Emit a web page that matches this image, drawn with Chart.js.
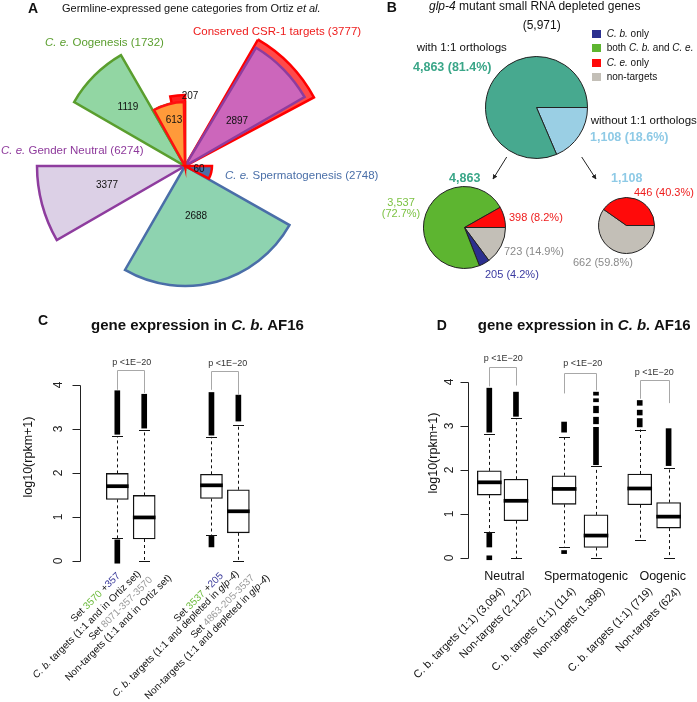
<!DOCTYPE html>
<html>
<head>
<meta charset="utf-8">
<script src="https://cdn.jsdelivr.net/npm/chart.js@4.4.1/dist/chart.umd.min.js"></script>
<style>
  html, body { margin: 0; padding: 0; background: #fff; }
  #fig { position: relative; width: 697px; height: 702px; overflow: hidden; font-family: "Liberation Sans", Arial, sans-serif; color: #111; }
  #fig canvas { position: absolute; }
  .t { position: absolute; width: 0; height: 0; }
  .t span { position: absolute; top: 0; white-space: nowrap; line-height: 1.15; }
</style>
</head>
<body>
<div id="fig">
  <canvas id="cA" width="300" height="300" style="left:35px;top:16px"></canvas>
  <canvas id="cB1" width="103" height="103" style="left:485px;top:56px"></canvas>
  <canvas id="cB2" width="83" height="83" style="left:423px;top:186px"></canvas>
  <canvas id="cB3" width="57" height="57" style="left:598px;top:197px"></canvas>
  <canvas id="cC" width="345" height="392" style="left:0;top:310px"></canvas>
  <canvas id="cD" width="352" height="392" style="left:345px;top:310px"></canvas>
  <svg width="697" height="702" style="position:absolute;left:0;top:0;pointer-events:none">
    <defs>
      <marker id="ah" viewBox="0 0 10 10" refX="9" refY="5" markerWidth="5" markerHeight="5" orient="auto">
        <path d="M0,0 L10,5 L0,10 z" fill="#222"/>
      </marker>
    </defs>
    <line x1="506.7" y1="157" x2="493" y2="179" stroke="#222" stroke-width="1" marker-end="url(#ah)"/>
    <line x1="581.7" y1="157" x2="596" y2="179" stroke="#222" stroke-width="1" marker-end="url(#ah)"/>
  </svg>
</div>
<script>
Chart.defaults.font.family = '"Liberation Sans", Arial, sans-serif';

// ---- Panel A: Ortiz gene-set regions (bearing in degrees clockwise from north, radius in px) ----
const regionCounts = [3777, 2897, 3377, 2688, 1119, 1732, 207, 613, 60];
const regionFrom   = [30, 31, 240, 119.5, 300, 330, 348, 331, 90];
const regionTo     = [62, 60, 270, 210, 330, 360, 360, 359, 118];
const regionRadius = [146, 138, 148, 120, 128, 64, 71, 64, 27];
const regionFill   = ['#ff4a4a', '#cc66bb', '#dcd0e6', '#8ed3b0', '#92d6a3', '#92d6a3', '#ff2020', '#ff9a3a', '#4a6ea8'];
const regionEdge   = ['#ff0000', '#8e3c9e', '#8e3c9e', '#4a6ea8', '#5a9e2e', '#5a9e2e', '#ff0000', '#ff1010', '#ff0000'];
const setNames  = ['C. e. Oogenesis', 'Conserved CSR-1 targets', 'C. e. Gender Neutral', 'C. e. Spermatogenesis'];
const setTotals = [1732, 3777, 6274, 2748];

// ---- Panel B: glp-4 depleted genes ----
const orthoCounts   = [1108, 4863];          // without / with 1:1 orthologs
const withCounts    = [723, 205, 3537, 398]; // non-targets, C. b. only, both, C. e. only
const withoutCounts = [662, 446];            // non-targets, C. e. only

// ---- Panel C: box plots ----
const cPos     = [1, 2, 4.5, 5.5];
const cQ1      = [1.40, 0.50, 1.42, 0.64];
const cMed     = [1.70, 0.99, 1.72, 1.13];
const cQ3      = [1.99, 1.49, 1.97, 1.62];
const cWhiskLo = [0.52, 0, 0.58, 0];
const cWhiskHi = [2.84, 2.97, 2.82, 3.10];
const cOutBox  = [0, 0, 1, 2, 2, 3];
const cOutLo   = [2.88, -0.05, 3.02, 2.86, 0.32, 3.18];
const cOutHi   = [3.87, 0.48, 3.79, 3.83, 0.56, 3.77];

// ---- Panel D: box plots ----
const dPos     = [1, 1.97, 3.72, 4.88, 6.47, 7.52];
const dQ1      = [1.43, 0.85, 1.22, 0.24, 1.21, 0.68];
const dMed     = [1.72, 1.30, 1.57, 0.51, 1.58, 0.94];
const dQ3      = [1.98, 1.79, 1.87, 0.98, 1.91, 1.26];
const dWhiskLo = [0.60, 0, 0.26, 0, 0.41, 0];
const dWhiskHi = [2.81, 3.18, 2.74, 2.09, 2.92, 2.04];
const dOutBox  = [0, 0, 0, 1, 2, 2, 3, 3, 3, 3, 3, 4, 4, 4, 5];
const dOutLo   = [2.86, 0.25, -0.04, 3.22, 2.86, 0.10, 2.12, 3.05, 3.30, 3.55, 3.70, 2.98, 3.25, 3.47, 2.10];
const dOutHi   = [3.86, 0.56, 0.05, 3.77, 3.09, 0.17, 2.97, 3.20, 3.45, 3.62, 3.77, 3.17, 3.36, 3.58, 2.94];

const yTicks = [0, 1, 2, 3, 4];

const fig = document.getElementById('fig');

function label(html, x, y, o = {}) {
  const wrap = document.createElement('div');
  wrap.className = 't';
  wrap.style.left = x + 'px';
  wrap.style.top = y + 'px';
  const s = document.createElement('span');
  s.innerHTML = html;
  s.style.fontSize = (o.size || 11) + 'px';
  if (o.bold) s.style.fontWeight = 'bold';
  if (o.color) s.style.color = o.color;
  const rot = o.rot || 0;
  const align = o.align || 'left';
  if (align === 'center') {
    s.style.left = '0';
    s.style.transformOrigin = 'center center';
    s.style.transform = `translate(-50%,-50%) rotate(${rot}deg)`;
  } else {
    s.style[align] = '0';
    s.style.transformOrigin = align + ' center';
    s.style.transform = `translateY(-50%) rotate(${rot}deg)`;
  }
  wrap.appendChild(s);
  fig.appendChild(wrap);
}

// ---------- Panel A ----------
new Chart(document.getElementById('cA'), {
  type: 'polarArea',
  data: {
    labels: [],
    datasets: regionCounts.map((count, i) => {
      const from = regionFrom[i];
      const span = regionTo[i] - from;
      const lead = from > 0;
      return {
        label: String(count),
        data: lead ? [0, regionRadius[i]] : [regionRadius[i]],
        angle: (ctx) => (lead ? [from, span] : [span])[ctx.dataIndex],
        backgroundColor: lead ? ['rgba(0,0,0,0)', regionFill[i]] : [regionFill[i]],
        borderColor: lead ? ['rgba(0,0,0,0)', regionEdge[i]] : [regionEdge[i]],
        borderWidth: lead ? [0, 2.5] : [2.5],
        borderJoinStyle: 'miter',
        order: regionCounts.length - i,
      };
    }),
  },
  options: {
    responsive: false,
    animation: false,
    events: [],
    layout: { padding: 0 },
    scales: { r: { display: false, min: 0, max: 150, startAngle: 0 } },
    plugins: { legend: { display: false }, tooltip: { enabled: false } },
  },
});

// ---------- Panel B ----------
const GREEN = '#5db530', RED = '#ff0a0a', NAVY = '#2b2f8f', GRAY = '#c3bfb7';
const TEAL = '#47a98f', LBLUE = '#9acfe4';
function pie(id, data, colors) {
  return new Chart(document.getElementById(id), {
    type: 'pie',
    data: { datasets: [{ data, backgroundColor: colors, borderColor: '#222', borderWidth: 1 }] },
    options: {
      responsive: false,
      animation: false,
      events: [],
      rotation: 90,
      plugins: { legend: { display: false }, tooltip: { enabled: false } },
    },
  });
}
pie('cB1', orthoCounts, [LBLUE, TEAL]);
pie('cB2', withCounts, [GRAY, NAVY, GREEN, RED]);
pie('cB3', withoutCounts, [GRAY, RED]);

// ---------- Panels C & D ----------
function boxExtras(cfg) {
  return {
    id: 'boxExtras',
    beforeDatasetsDraw(chart) {
      const { ctx } = chart;
      const { x, y } = chart.scales;
      ctx.save();
      ctx.strokeStyle = '#111';
      ctx.lineWidth = 1;
      cfg.pos.forEach((p, i) => {
        const px = Math.round(x.getPixelForValue(p)) + 0.5;
        ctx.setLineDash([3, 3]);
        ctx.beginPath();
        ctx.moveTo(px, y.getPixelForValue(cfg.q3[i]));
        ctx.lineTo(px, y.getPixelForValue(cfg.hi[i]));
        ctx.moveTo(px, y.getPixelForValue(cfg.q1[i]));
        ctx.lineTo(px, y.getPixelForValue(cfg.lo[i]));
        ctx.stroke();
        ctx.setLineDash([]);
        ctx.beginPath();
        [cfg.hi[i], cfg.lo[i]].forEach((v) => {
          const py = Math.round(y.getPixelForValue(v)) + 0.5;
          ctx.moveTo(px - 5.5, py);
          ctx.lineTo(px + 5.5, py);
        });
        ctx.stroke();
      });
      ctx.restore();
    },
    afterDraw(chart) {
      const { ctx } = chart;
      const { x, y } = chart.scales;
      const a = chart.chartArea.left + 0.5;
      ctx.save();
      // R-style y axis: spans the ticks only
      ctx.strokeStyle = '#222';
      ctx.lineWidth = 1;
      ctx.beginPath();
      ctx.moveTo(a, Math.round(y.getPixelForValue(yTicks[0])) + 0.5);
      ctx.lineTo(a, Math.round(y.getPixelForValue(yTicks[yTicks.length - 1])) + 0.5);
      yTicks.forEach((t) => {
        const py = Math.round(y.getPixelForValue(t)) + 0.5;
        ctx.moveTo(a - 8, py);
        ctx.lineTo(a, py);
      });
      ctx.stroke();
      ctx.fillStyle = '#222';
      ctx.font = '12px "Liberation Sans", Arial, sans-serif';
      ctx.textAlign = 'center';
      ctx.textBaseline = 'middle';
      yTicks.forEach((t) => {
        ctx.save();
        ctx.translate(a - cfg.tickGap, y.getPixelForValue(t));
        ctx.rotate(-Math.PI / 2);
        ctx.fillText(String(t), 0, 0);
        ctx.restore();
      });
      // significance brackets
      ctx.strokeStyle = '#a8a8a8';
      cfg.brackets.forEach(([i, j, top, legI, legJ]) => {
        const xi = Math.round(x.getPixelForValue(cfg.pos[i])) + 0.5;
        const xj = Math.round(x.getPixelForValue(cfg.pos[j])) + 0.5;
        const yt = Math.round(y.getPixelForValue(top)) + 0.5;
        ctx.beginPath();
        ctx.moveTo(xi, y.getPixelForValue(legI));
        ctx.lineTo(xi, yt);
        ctx.lineTo(xj, yt);
        ctx.lineTo(xj, y.getPixelForValue(legJ));
        ctx.stroke();
      });
      ctx.restore();
    },
  };
}

function boxChart(id, cfg) {
  const pts = (f) => cfg.pos.map((p, i) => ({ x: p, y: f(i) }));
  return new Chart(document.getElementById(id), {
    type: 'bar',
    data: {
      datasets: [
        {
          data: cfg.outBox.map((b, k) => ({ x: cfg.pos[b], y: [cfg.outLo[k], cfg.outHi[k]] })),
          backgroundColor: '#000',
          barThickness: 5,
          grouped: false,
          clip: false,
          order: 3,
        },
        {
          data: pts((i) => [cfg.q1[i], cfg.q3[i]]),
          backgroundColor: '#fff',
          borderColor: '#111',
          borderWidth: 1.3,
          borderSkipped: false,
          barThickness: cfg.boxW,
          grouped: false,
          clip: false,
          order: 2,
        },
        {
          data: pts((i) => [cfg.med[i] - 0.035, cfg.med[i] + 0.035]),
          backgroundColor: '#000',
          barThickness: cfg.boxW,
          grouped: false,
          clip: false,
          order: 1,
        },
      ],
    },
    options: {
      responsive: false,
      animation: false,
      events: [],
      layout: { padding: cfg.pad },
      scales: {
        x: { type: 'linear', display: false, min: cfg.xMin, max: cfg.xMax, offset: false },
        y: { display: false, min: 0, max: 4 },
      },
      plugins: { legend: { display: false }, tooltip: { enabled: false } },
    },
    plugins: [boxExtras(cfg)],
  });
}

boxChart('cC', {
  pos: cPos, q1: cQ1, med: cMed, q3: cQ3, lo: cWhiskLo, hi: cWhiskHi,
  outBox: cOutBox, outLo: cOutLo, outHi: cOutHi,
  boxW: 22, tickGap: 22,
  pad: { left: 80, top: 75, right: 65, bottom: 141 },
  xMin: -0.387, xMax: 7.048,
  brackets: [[0, 1, 4.34, 3.89, 3.82], [2, 3, 4.31, 3.89, 3.77]],
});

boxChart('cD', {
  pos: dPos, q1: dQ1, med: dMed, q3: dQ3, lo: dWhiskLo, hi: dWhiskHi,
  outBox: dOutBox, outLo: dOutLo, outHi: dOutHi,
  boxW: 24, tickGap: 19,
  pad: { left: 123, top: 72, right: 7, bottom: 144 },
  xMin: 0.2255, xMax: 8.298,
  brackets: [[0, 1, 4.33, 3.90, 3.92], [2, 3, 4.21, 3.74, 3.81], [4, 5, 4.04, 3.62, 3.52]],
});

// ---------- Text ----------
const ce = '<i>C. e.</i>', cb = '<i>C. b.</i>';
const PURPLE = '#8e3a9c', OGREEN = '#5a9e2e', SBLUE = '#4a6fa8', TRED = '#ee1c1c';

// Panel A
label('A', 33, 8, { size: 14, bold: true, align: 'center' });
label('Germline-expressed gene categories from Ortiz <i>et al.</i>', 62, 8, { size: 11 });
label(`${ce} Oogenesis (${setTotals[0]})`, 45, 43, { size: 11.5, color: OGREEN });
label(`${setNames[1]} (${setTotals[1]})`, 193, 32, { size: 11.5, color: TRED });
label(`${ce} Gender Neutral (${setTotals[2]})`, 1, 151, { size: 11.5, color: PURPLE });
label(`${ce} Spermatogenesis (${setTotals[3]})`, 225, 176, { size: 11.5, color: SBLUE });
const regionLabelAt = { 1119: [128, 107], 613: [174, 120], 207: [190, 96], 2897: [237, 121], 3377: [107, 185], 2688: [196, 216], 60: [199, 169] };
regionCounts.forEach((c) => {
  const p = regionLabelAt[c];
  if (p) label(String(c), p[0], p[1], { size: 10, align: 'center' });
});

// Panel B
const fmt = (n) => n.toLocaleString('en-US');
const pct = (n, tot) => (100 * n / tot).toFixed(1) + '%';
const orthoTotal = orthoCounts[0] + orthoCounts[1];
const withTotal = withCounts.reduce((s, v) => s + v, 0);
const withoutTotal = withoutCounts.reduce((s, v) => s + v, 0);
label('B', 391.7, 7, { size: 14, bold: true, align: 'center' });
label('<i>glp-4</i> mutant small RNA depleted genes', 429, 7, { size: 12 });
label(`(${fmt(orthoTotal)})`, 541.7, 26, { size: 12, align: 'center' });
label('with 1:1 orthologs', 416.7, 48, { size: 11.5 });
label(`${fmt(orthoCounts[1])} (${pct(orthoCounts[1], orthoTotal)})`, 413, 67, { size: 12.5, bold: true, color: '#3aa688' });
label('without 1:1 orthologs', 590.7, 121, { size: 11.5 });
label(`${fmt(orthoCounts[0])} (${pct(orthoCounts[0], orthoTotal)})`, 590, 137, { size: 12.5, bold: true, color: '#8ecae6' });
label(fmt(withTotal), 464.7, 178, { size: 12.5, bold: true, color: '#3aa688', align: 'center' });
label(fmt(withoutTotal), 626.7, 178, { size: 12.5, bold: true, color: '#8ecae6', align: 'center' });
label(fmt(withCounts[2]), 401, 202, { size: 11, color: '#7cc243', align: 'center' });
label(`(${pct(withCounts[2], withTotal)})`, 401, 213, { size: 11, color: '#7cc243', align: 'center' });
label(`${withCounts[3]} (${pct(withCounts[3], withTotal)})`, 509, 217, { size: 11, color: TRED });
label(`${withCounts[0]} (${pct(withCounts[0], withTotal)})`, 504, 251, { size: 11, color: '#8a8a8a' });
label(`${withCounts[1]} (${pct(withCounts[1], withTotal)})`, 485, 274, { size: 11, color: '#3a3aa0' });
label(`${withoutCounts[1]} (${pct(withoutCounts[1], withoutTotal)})`, 634, 192, { size: 11, color: TRED });
label(`${withoutCounts[0]} (59.8%)`, 573, 262, { size: 11, color: '#8a8a8a' });
const legendItems = [[`${cb} only`, NAVY], [`both ${cb} and ${ce}`, GREEN], [`${ce} only`, RED], ['non-targets', GRAY]];
legendItems.forEach(([txt, col], k) => {
  const yy = 33.5 + k * 14.6;
  const sw = document.createElement('div');
  sw.style.cssText = `position:absolute;left:592px;top:${yy - 4}px;width:9px;height:8px;background:${col}`;
  fig.appendChild(sw);
  label(txt, 606.7, yy, { size: 10 });
});

// Panel C
label('C', 43, 320, { size: 14, bold: true, align: 'center' });
label(`gene expression in ${cb} AF16`, 197.5, 325, { size: 15, bold: true, align: 'center' });
label('log10(rpkm+1)', 28, 457, { size: 12.5, align: 'center', rot: -90 });
label('p &lt;1E−20', 131.7, 362, { size: 9, align: 'center', color: '#333' });
label('p &lt;1E−20', 227.7, 362.5, { size: 9, align: 'center', color: '#333' });
const G = (s) => `<span style="position:static;color:#6cbb3c">${s}</span>`;
const N = (s) => `<span style="position:static;color:#3a3a9a">${s}</span>`;
const Y = (s) => `<span style="position:static;color:#9a9a9a">${s}</span>`;
const cLabels = [
  [`Set ${G('3570')} +${N('357')}`, 118, 574],
  [`${cb} targets (1:1 and in Ortiz set)`, 139, 572],
  [`Set ${Y('8071-357-3570')}`, 151, 578],
  ['Non-targets (1:1 and in Ortiz set)', 170, 575.5],
  [`Set ${G('3537')} +${N('205')}`, 221.5, 574],
  [`${cb} targets (1:1 and depleted in <i>glp-4</i>)`, 237, 572],
  [`Set ${Y('4863-205-3537')}`, 253, 575.5],
  ['Non-targets (1:1 and depleted in <i>glp-4</i>)', 268, 575.5],
];
cLabels.forEach(([t, x, y]) => label(t, x, y, { size: 10, align: 'right', rot: -45 }));

// Panel D
label('D', 441.7, 325, { size: 14, bold: true, align: 'center' });
label(`gene expression in ${cb} AF16`, 584.2, 325, { size: 15, bold: true, align: 'center' });
label('log10(rpkm+1)', 433.3, 453.3, { size: 12.5, align: 'center', rot: -90 });
label('p &lt;1E−20', 503.3, 358.3, { size: 9, align: 'center', color: '#333' });
label('p &lt;1E−20', 582.7, 363.3, { size: 9, align: 'center', color: '#333' });
label('p &lt;1E−20', 654.3, 371.7, { size: 9, align: 'center', color: '#333' });
label('Neutral', 504.3, 576, { size: 12.5, align: 'center' });
label('Spermatogenic', 586, 576, { size: 12.5, align: 'center' });
label('Oogenic', 662.7, 576, { size: 12.5, align: 'center' });
const dLabels = [
  ['C. b. targets (1:1) (3,094)', 502, 589],
  ['Non-targets (2,122)', 528.5, 589],
  ['C. b. targets (1:1) (114)', 573.5, 589],
  ['Non-targets (1,398)', 602, 589],
  ['C. b. targets (1:1) (719)', 650, 589],
  ['Non-targets (624)', 678.5, 589],
];
dLabels.forEach(([t, x, y]) => label(t, x, y, { size: 11, align: 'right', rot: -45 }));
</script>
</body>
</html>
